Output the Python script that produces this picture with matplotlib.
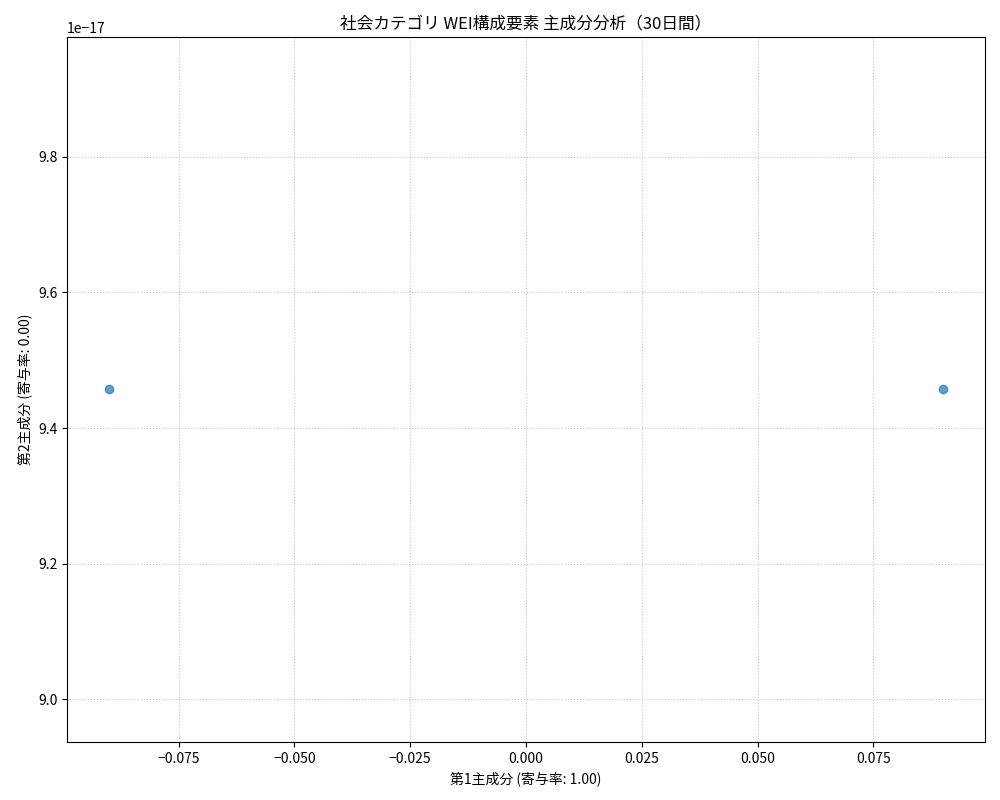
import numpy as np
import matplotlib
matplotlib.use("Agg")
import matplotlib.pyplot as plt

plt.rcParams['font.family'] = ['Noto Sans CJK JP', 'DejaVu Sans']
plt.rcParams['axes.unicode_minus'] = True

# PCA結果（2点、第2主成分はほぼ同一値）
pc1 = [-0.0901, 0.0901]
pc2 = [9.457e-17, 9.457e-17]
ratio1 = 1.00
ratio2 = 0.00

fig, ax = plt.subplots(figsize=(10, 8), dpi=100)
ax.scatter(pc1, pc2, alpha=0.7)
ax.set_xlabel(f'第1主成分 (寄与率: {ratio1:.2f})')
ax.set_ylabel(f'第2主成分 (寄与率: {ratio2:.2f})')
ax.set_title('社会カテゴリ WEI構成要素 主成分分析（30日間）')
ax.grid(True, linestyle=':', alpha=0.7)

fig.subplots_adjust(left=0.067, right=0.985, top=0.954, bottom=0.0725)
plt.savefig('out.png', dpi=100)
